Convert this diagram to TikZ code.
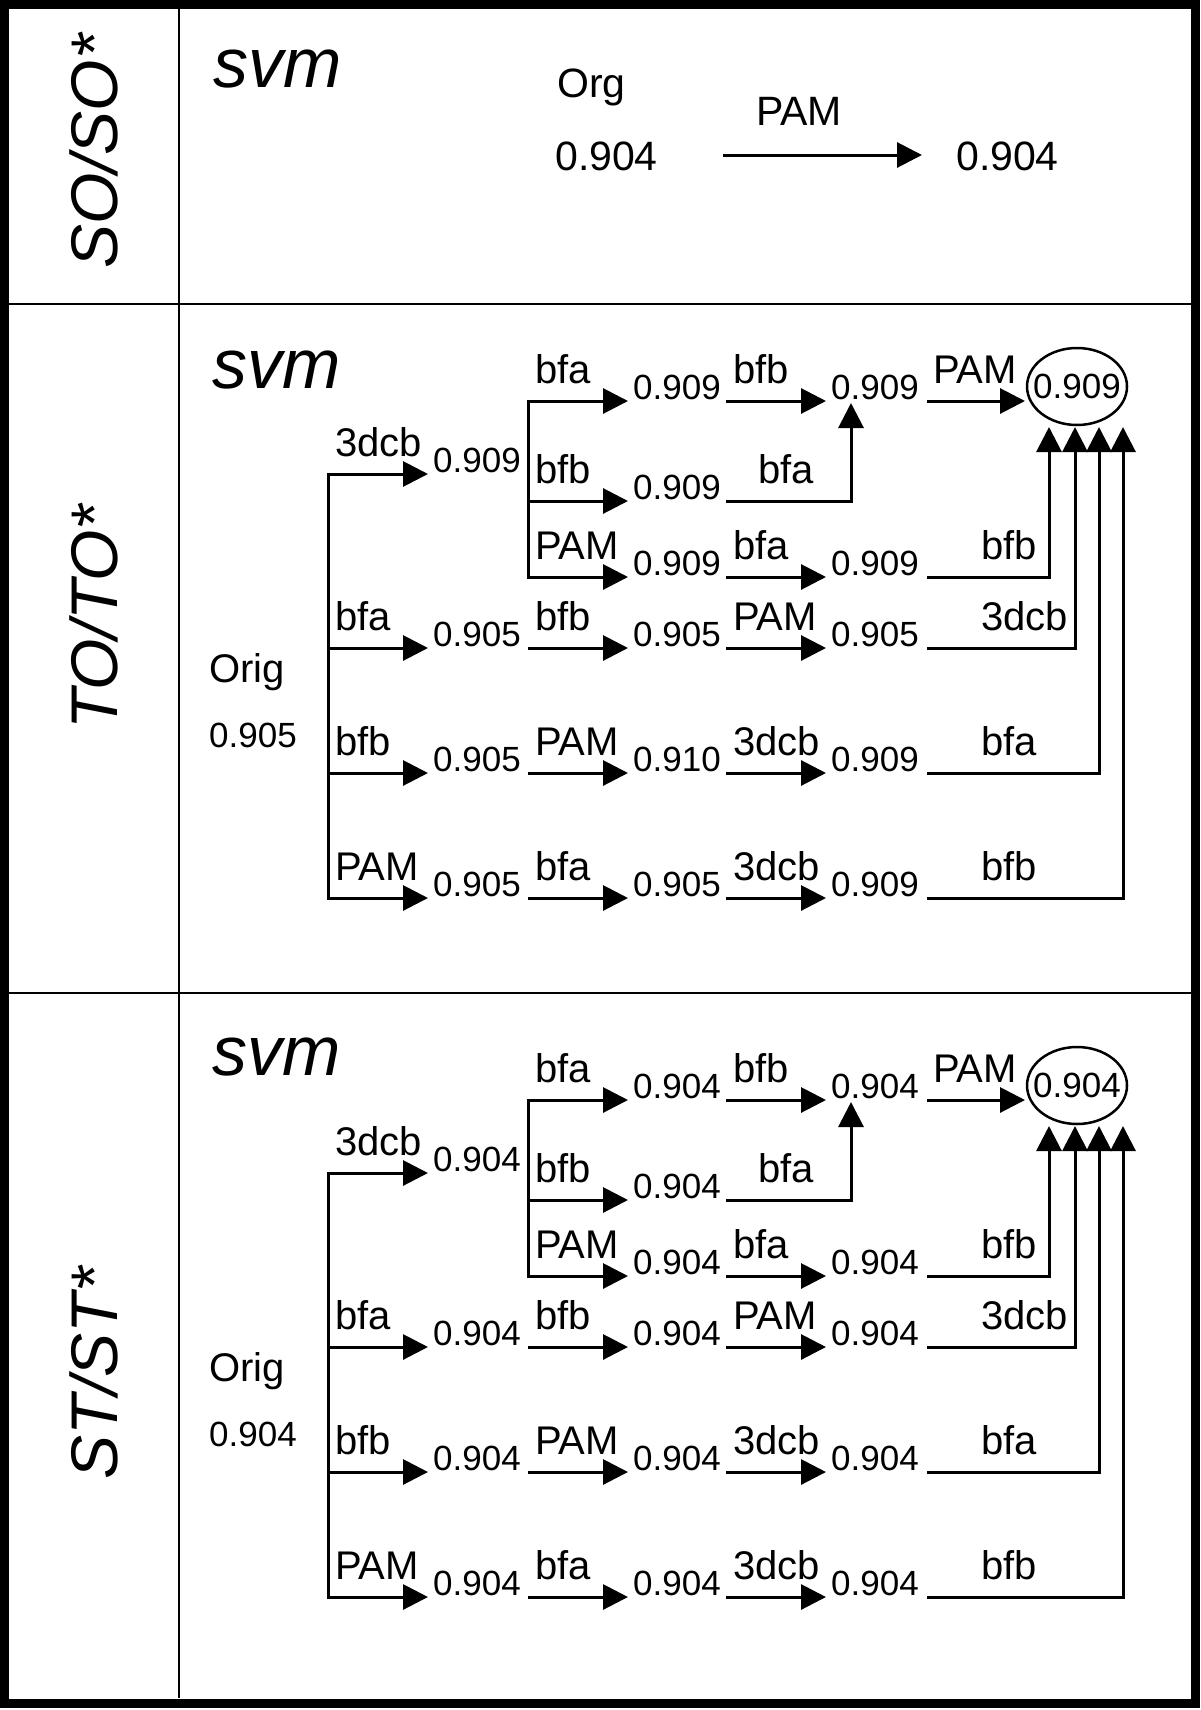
\documentclass[tikz,border=0pt]{standalone}
\usepackage{fontspec}
\setmainfont{Liberation Sans}
\usetikzlibrary{arrows.meta,shapes.geometric}

\tikzset{
  rowtag/.style={rotate=90,anchor=base west,inner sep=0pt,font=\itshape\fontsize{66}{66}\selectfont},
  paneltitle/.style={anchor=base west,inner sep=0pt,font=\itshape\fontsize{70}{70}\selectfont},
  sotext/.style={anchor=base west,inner sep=0pt,font=\fontsize{41}{41}\selectfont},
  lbl/.style={anchor=base west,inner sep=0pt,font=\fontsize{40}{40}\selectfont},
  val/.style={anchor=base west,inner sep=0pt,font=\fontsize{35}{35}\selectfont},
  link/.style={line width=3pt},
  flow/.style={line width=3pt,-{Triangle[length=25pt,width=25pt]}},
  best/.style={ellipse,draw,line width=2.5pt,inner sep=0pt,minimum width=100pt,minimum height=77pt,font=\fontsize{35}{35}\selectfont},
}

% one step: arrow from x,y with operator above and result after the tip
\newcommand\hop[5]{%
  \coordinate (#1-s) at (#2,#3);
  \coordinate (#1-e) at (#2+100,#3);
  \node[lbl] (#1-l) at (#2+7,#3-18) {#4};
  \node[val] (#1-v) at (#2+105,#3-2) {#5};
  \draw[flow] (#1-s) -- (#1-e);
}

% common part of the TO and ST panels (hops must be placed first)
\newcommand\panel[4]{%
  \node[paneltitle] (#1-svm) at (212,#4) {svm};
  \node[lbl] (#1-orig) at (209,682) {Orig};
  \node[val] (#1-origv) at (209,747) {#2};
  \draw[link,line cap=rect] (#1-c1-s) -- (#1-q1-s);
  \draw[link,line cap=rect] (#1-u1-s) -- (#1-p1-s);
  \node[best] (#1-best) at (1077,386.5) {\makebox[0pt]{#3}};
  \coordinate (#1-u3-s) at (927,401);
  \coordinate (#1-u3-e) at (1025,401);
  \node[lbl] (#1-u3-l) at (933,383) {PAM};
  \draw[flow] (#1-u3-s) -- (#1-u3-e);
  \coordinate (#1-m2-s) at (726,501);
  \coordinate (#1-m2-e) at (851,403);
  \node[lbl] (#1-m2-l) at (758,483) {bfa};
  \draw[flow] (#1-m2-s) -| (#1-m2-e);
  \foreach \id/\sy/\op/\xv in {p3/577/bfb/1049,a4/648/3dcb/1075,b4/773/bfa/1099,q4/898/bfb/1123}{
    \coordinate (#1-\id-s) at (927,\sy);
    \coordinate (#1-\id-e) at (\xv,427);
    \node[lbl] (#1-\id-l) at (981,\sy-18) {\op};
    \draw[flow] (#1-\id-s) -| (#1-\id-e);
  }
}

\begin{document}
\begin{tikzpicture}[x=1pt,y=-1pt]
  \useasboundingbox (0,0) rectangle (1200,1710);
  % frame
  \draw[line width=9pt] (4.5,4.5) rectangle (1195.5,1703);
  \draw[line width=2.5pt] (179,9) -- (179,1698);
  \draw[line width=2.5pt] (9,304) -- (1191,304);
  \draw[line width=2.5pt] (9,993) -- (1191,993);
  \node[rowtag] (so-tag) at (117,269) {SO/SO*};
  \node[rowtag] (to-tag) at (117,730) {TO/TO*};
  \node[rowtag] (st-tag) at (117,1480) {ST/ST*};

  % SO/SO*
  \node[paneltitle] (so-svm) at (213,88) {svm};
  \node[sotext] (so-org) at (557,97) {Org};
  \node[sotext] (so-in) at (555,170) {0.904};
  \node[sotext] (so-pam) at (756,125) {PAM};
  \node[sotext] (so-out) at (956,170) {0.904};
  \coordinate (so-s) at (723,155);
  \coordinate (so-e) at (922,155);
  \draw[flow] (so-s) -- (so-e);

  % TO/TO*
  \foreach \id/\sx/\sy/\op/\res in {c1/328/474/3dcb/0.909,
      u1/528/401/bfa/0.909, u2/726/401/bfb/0.909, m1/528/501/bfb/0.909,
      p1/528/577/PAM/0.909, p2/726/577/bfa/0.909,
      a1/328/648/bfa/0.905, a2/528/648/bfb/0.905, a3/726/648/PAM/0.905,
      b1/328/773/bfb/0.905, b2/528/773/PAM/0.910, b3/726/773/3dcb/0.909,
      q1/328/898/PAM/0.905, q2/528/898/bfa/0.905, q3/726/898/3dcb/0.909}
    \hop{to-\id}{\sx}{\sy}{\op}{\res};
  \panel{to}{0.905}{0.909}{388}

  % ST/ST*
  \begin{scope}[shift={(0,699)}]
    \foreach \id/\sx/\sy/\op in {c1/328/474/3dcb,
        u1/528/401/bfa, u2/726/401/bfb, m1/528/501/bfb,
        p1/528/577/PAM, p2/726/577/bfa,
        a1/328/648/bfa, a2/528/648/bfb, a3/726/648/PAM,
        b1/328/773/bfb, b2/528/773/PAM, b3/726/773/3dcb,
        q1/328/898/PAM, q2/528/898/bfa, q3/726/898/3dcb}
      \hop{st-\id}{\sx}{\sy}{\op}{0.904};
    \panel{st}{0.904}{0.904}{376}
  \end{scope}
\end{tikzpicture}
\end{document}
